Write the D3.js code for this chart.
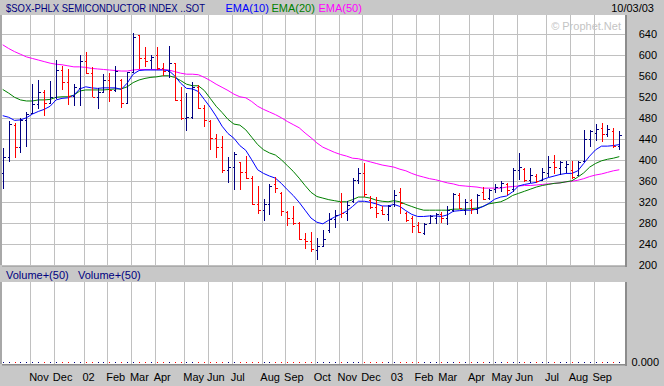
<!DOCTYPE html>
<html><head><meta charset="utf-8">
<script src="https://cdn.jsdelivr.net/npm/d3@7"></script>
<style>
html,body{margin:0;padding:0;background:#c8c8c8;}
svg{display:block;}
text{font-family:"Liberation Sans",Arial,sans-serif;font-size:11px;}
</style></head><body>
<svg id="c" width="664" height="386"></svg>
<script>
// ---- data (weekly bars, week starting Monday) ----
const firstWeek = "2001-10-01";
const opens  = [375,406,468,425,477,491,507,531,510,520,572,549,522,538,589,567,521,530,552,533,
                552,510,568,639,594,591,600,575,570,585,515,481,483,540,499,474,442,426,381,388,
                396,377,366,317,305,317,355,338,302,291,281,251,246,229,237,268,288,320,300,322,
                362,375,324,312,305,298,316,340,300,290,276,262,280,290,298,291,305,333,305,325,
                307,340,328,345,350,354,346,382,384,362,370,363,375,397,386,388,381,372,398,440,
                452,462,450,455,428];
const highs  = [424,475,472,480,492,545,553,534,551,591,580,574,545,601,606,577,537,564,566,580,
                555,569,642,639,615,601,615,586,618,585,540,529,550,543,505,476,451,446,407,415,
                397,409,370,352,326,354,368,340,303,313,283,262,263,252,268,300,306,338,323,367,
                386,394,332,331,313,315,343,348,302,294,283,280,296,299,302,313,338,337,326,327,
                335,349,346,355,360,356,385,414,385,385,373,385,408,410,398,398,398,398,458,458,
                469,472,467,461,455];
const lows   = [345,396,405,414,425,488,497,484,509,516,534,505,503,503,564,520,498,528,512,531,
                500,509,566,573,578,573,572,561,556,513,477,455,479,497,464,420,404,375,356,343,
                343,364,314,297,285,296,338,293,275,276,249,232,225,210,237,262,271,291,284,318,
                355,331,308,291,296,285,312,298,283,262,261,258,279,279,280,277,302,307,296,297,
                297,324,325,337,340,333,340,362,359,357,356,362,369,374,372,375,364,370,397,425,
                437,434,444,424,420];
const closes = [406,470,425,477,489,507,531,510,520,572,549,522,540,589,567,521,530,552,533,571,
                510,568,635,594,590,597,575,570,585,515,481,483,540,499,477,442,426,381,388,412,
                377,366,317,305,317,352,348,304,291,281,251,246,231,236,250,288,295,300,315,362,
                375,335,312,300,298,313,333,318,286,274,264,278,293,297,291,305,335,310,321,307,
                333,327,344,350,357,344,382,388,362,372,361,377,388,388,396,393,369,396,441,455,
                459,451,460,427,448];
const ema10 = [485,482,476,477,481,488,493,497,503,515,518,519,524,536,540,538,537,538,538,538,
               535,547,564,571,572,572,572,572,571,561,547,537,536,531,516,501,484,465,451,442,
               428,419,401,382,375,370,366,356,344,333,320,305,290,282,279,286,292,297,303,312,
               322,322,320,317,313,313,316,312,304,297,293,293,294,294,293,296,303,304,305,305,
               307,312,318,326,330,332,340,351,354,356,358,363,367,370,373,375,375,380,394,408,
               420,427,427,428,430];
const ema20 = [535,528,520,515,513,513,515,515,516,520,521,521,524,532,534,534,534,534,535,536,
               536,540,548,553,556,558,559,561,561,558,552,545,542,542,533,518,503,491,478,469,
               467,458,444,430,420,414,410,401,390,379,366,352,339,331,328,325,323,321,321,325,
               330,330,328,324,322,321,323,321,316,312,308,305,305,305,305,305,307,307,307,308,
               309,312,317,319,321,326,333,337,341,345,349,352,354,356,357,359,361,368,376,387,
               394,399,402,404,407];
const ema50 = [620,613,607,602,597,594,591,588,585,583,582,580,578,578,577,575,574,573,572,571,
               570,570,572,573,573,573,573,573,572,569,566,564,564,563,558,552,545,539,533,526,
               521,519,512,503,497,492,487,481,474,468,462,452,443,433,425,420,415,411,408,404,
               403,400,397,394,391,389,387,383,380,375,371,368,365,363,360,357,355,352,351,350,
               349,347,347,347,347,349,350,351,352,352,353,354,355,356,357,359,360,362,365,369,
               372,374,377,380,382];
const yTicks = [640,600,560,520,480,440,400,360,320,280,240,200];
const volumeTicks = ["0.000"];
const monthLabels = ["Nov","Dec","02","Feb","Mar","Apr","May","Jun","Jul","Aug","Sep","Oct",
                     "Nov","Dec","03","Feb","Mar","Apr","May","Jun","Jul","Aug","Sep"];
const title = "$SOX-PHLX SEMICONDUCTOR INDEX ..SOT";
const legendLabels = ["EMA(10)","EMA(20)","EMA(50)"];
const dateLabel = "10/03/03";
const volumeLabels = ["Volume+(50)","Volume+(50)"];
const watermark = "\u00a9 Prophet.Net";

// ---- layout ----
const W = 664, H = 386;
const P = {left:2, right:625, top:15, bottom:265};
const V = {top:282, bottom:364};
const NAVY="#000080", RED="#ff0000", GRID="#c0c0c0";
const emaColors = ["#0000ff","#008000","#ff00ff"];

const n = closes.length;
const svg = d3.select("#c");
const x = d3.scaleLinear().domain([0, n-1]).range([2.7, 619.3]);
const y = d3.scaleLinear().domain([200, 640]).range([265.3, 34.3]);
const yV = d3.scaleLinear().domain([0, 1]).range([363, 290]);

const dates = d3.range(n).map(i => d3.timeMonday.offset(d3.timeParse("%Y-%m-%d")(firstWeek), i));
const monthIdx = d3.range(1, n).filter(i => dates[i].getMonth() !== dates[i-1].getMonth());

svg.append("rect").attr("width",W).attr("height",H).attr("fill","#c8c8c8");

// panels
function panel(top, bottom){
  svg.append("rect").attr("x",P.left).attr("y",top).attr("width",P.right-P.left).attr("height",bottom-top).attr("fill","#fff");
  svg.append("rect").attr("x",P.right).attr("y",top).attr("width",2).attr("height",bottom-top+2).attr("fill","#8c8c8c");
  svg.append("rect").attr("x",P.left).attr("y",bottom).attr("width",P.right-P.left+2).attr("height",1.5).attr("fill","#8c8c8c");
  svg.append("rect").attr("x",0).attr("y",top).attr("width",P.left).attr("height",bottom-top).attr("fill","#a8a8a8");
}
panel(P.top, P.bottom);
panel(V.top, V.bottom);

// vertical grid
[[P.top,P.bottom],[V.top,V.bottom]].forEach(([t,b]) => {
  svg.append("g").selectAll("line").data(monthIdx).join("line")
    .attr("x1", i => Math.round(x(i)-2)+0.5).attr("x2", i => Math.round(x(i)-2)+0.5)
    .attr("y1", t).attr("y2", b).attr("stroke", GRID).attr("shape-rendering","crispEdges");
});
// horizontal grid
svg.append("g").selectAll("line").data(yTicks).join("line")
  .attr("x1",P.left).attr("x2",P.right)
  .attr("y1", d => Math.round(y(d))+0.5).attr("y2", d => Math.round(y(d))+0.5)
  .attr("stroke",GRID).attr("shape-rendering","crispEdges");

// watermark
svg.append("text").attr("x",621).attr("y",30).attr("text-anchor","end").attr("fill","#c4c4c4").text(watermark);

// EMA lines
[ema50, ema20, ema10].forEach((arr, k) => {
  svg.append("path").datum(arr)
    .attr("d", d3.line().x((d,i)=>x(i)).y(d=>y(d)))
    .attr("fill","none").attr("stroke", emaColors[2-k]).attr("stroke-width",1);
});

// OHLC bars
const bars = d3.range(n).map(i => ({i, o:opens[i], h:highs[i], l:lows[i], c:closes[i]}));
const g = svg.append("g").attr("shape-rendering","crispEdges");
const bx = d => Math.round(x(d.i))+0.5;
const col = d => d.c < d.o ? RED : NAVY;
g.selectAll(".hl").data(bars).join("line").attr("class","hl")
  .attr("x1",bx).attr("x2",bx).attr("y1",d=>y(d.h)).attr("y2",d=>y(d.l)).attr("stroke",col);
g.selectAll(".op").data(bars).join("line").attr("class","op")
  .attr("x1",d=>bx(d)-2).attr("x2",d=>bx(d)).attr("y1",d=>Math.round(y(d.o))+0.5).attr("y2",d=>Math.round(y(d.o))+0.5).attr("stroke",col);
g.selectAll(".cl").data(bars).join("line").attr("class","cl")
  .attr("x1",bx).attr("x2",d=>bx(d)+2).attr("y1",d=>Math.round(y(d.c))+0.5).attr("y2",d=>Math.round(y(d.c))+0.5).attr("stroke",col);

// volume (zero) markers
g.selectAll(".vol").data(bars).join("rect").attr("class","vol")
  .attr("x",d=>Math.round(x(d.i))).attr("y",yV(0)-1).attr("width",1).attr("height",1).attr("fill",col);

// y axis labels
svg.append("g").selectAll("text").data(yTicks).join("text")
  .attr("x",657).attr("y",d=>y(d)+4).attr("text-anchor","end").attr("fill","#000").text(d=>d);
svg.append("text").attr("x",659).attr("y",yV(0)+3).attr("text-anchor","end").attr("fill","#000").text(volumeTicks[0]);

// month labels
svg.append("g").selectAll("text").data(monthIdx).join("text")
  .attr("x",(i)=>x(i)-3.2).attr("y",381).attr("fill","#000").text((i,k)=>monthLabels[k]);

// header
svg.append("text").attr("x",6).attr("y",12).attr("fill",NAVY).style("font-size","10.4px")
  .attr("textLength",199).attr("lengthAdjust","spacingAndGlyphs").text(title);
const legX = [225.5, 271.5, 318.5];
legendLabels.forEach((t,k)=> svg.append("text").attr("x",legX[k]).attr("y",12).attr("fill",emaColors[k]).text(t));
svg.append("text").attr("x",654).attr("y",12).attr("text-anchor","end").attr("fill","#000").text(dateLabel);
const volX = [6, 78];
volumeLabels.forEach((t,k)=> svg.append("text").attr("x",volX[k]).attr("y",279).attr("fill",NAVY).text(t));
</script>
</body></html>
